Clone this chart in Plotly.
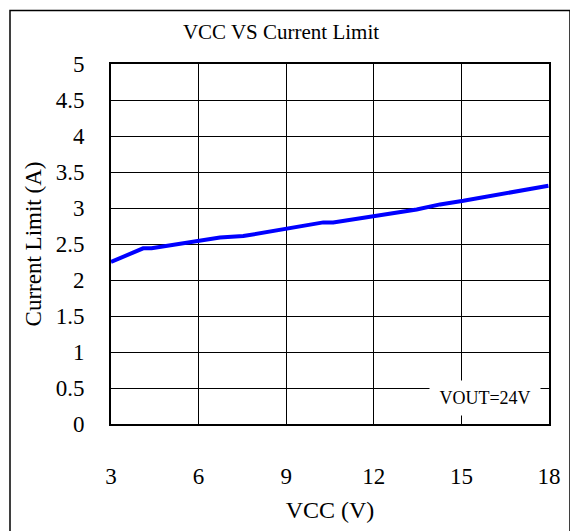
import plotly.graph_objects as go

vcc = [3.0, 4.1, 4.39, 5.99, 6.73, 7.53, 9.02, 10.27, 10.61, 11.98, 13.47, 14.27, 15.07, 17.98]
current = [2.25, 2.44, 2.44, 2.54, 2.59, 2.61, 2.72, 2.80, 2.80, 2.88, 2.98, 3.05, 3.10, 3.31]
x_ticks = [3, 6, 9, 12, 15, 18]
y_ticks = [0, 0.5, 1, 1.5, 2, 2.5, 3, 3.5, 4, 4.5, 5]

FONT = "Liberation Serif"
OFF = 8  # page body margin
W, H = 578 - OFF, 531 - OFF
L, R, T, B = 111 - OFF, 29, 64 - OFF, 103
pw = W - L - R
ph = H - T - B

def px(xp):
    return (xp - OFF - L) / pw

def py(yp):
    return (H - B - (yp - OFF)) / ph

fig = go.Figure()
fig.add_trace(go.Scatter(x=vcc, y=current, mode="lines",
                         line=dict(color="#0000FF", width=4), showlegend=False))

fig.update_layout(
    width=W, height=H,
    margin=dict(l=L, r=R, t=T, b=B),
    paper_bgcolor="white", plot_bgcolor="white",
    font=dict(family=FONT, color="black", size=22),
    title=dict(text="VCC VS Current Limit", x=px(281), xanchor="center",
               xref="paper",
               y=1 - (32 - OFF) / H, yanchor="middle", yref="container",
               font=dict(family=FONT, size=21, color="black")),
    xaxis=dict(range=[3, 18], tickvals=x_ticks, ticktext=[str(v) for v in x_ticks],
               showgrid=True, gridcolor="black", gridwidth=1,
               showline=True, linecolor="black", linewidth=2, mirror=True,
               zeroline=False, ticks="", ticklabelstandoff=30,
               tickfont=dict(family=FONT, size=23),
               title=dict(text="VCC (V)", font=dict(family=FONT, size=24), standoff=14)),
    yaxis=dict(range=[0, 5], tickvals=y_ticks,
               ticktext=["0", "0.5", "1", "1.5", "2", "2.5", "3", "3.5", "4", "4.5", "5"],
               showgrid=True, gridcolor="black", gridwidth=1,
               showline=True, linecolor="black", linewidth=2, mirror=True,
               zeroline=False, ticks="", ticklabelstandoff=20,
               tickfont=dict(family=FONT, size=23),
               title=dict(text="Current Limit (A)", font=dict(family=FONT, size=23), standoff=8)),
    shapes=[dict(type="rect", xref="paper", yref="paper",
                 x0=px(10), x1=px(570), y0=py(560), y1=py(10),
                 line=dict(color="black", width=1.5), fillcolor="rgba(0,0,0,0)", layer="above")],
    annotations=[dict(text="VOUT=24V", xref="paper", yref="paper",
                      x=px(485), y=py(402), xanchor="center", yanchor="middle",
                      showarrow=False, bgcolor="white", width=108, height=32,
                      font=dict(family=FONT, size=18, color="black"))],
)

fig.write_html("out.html")
